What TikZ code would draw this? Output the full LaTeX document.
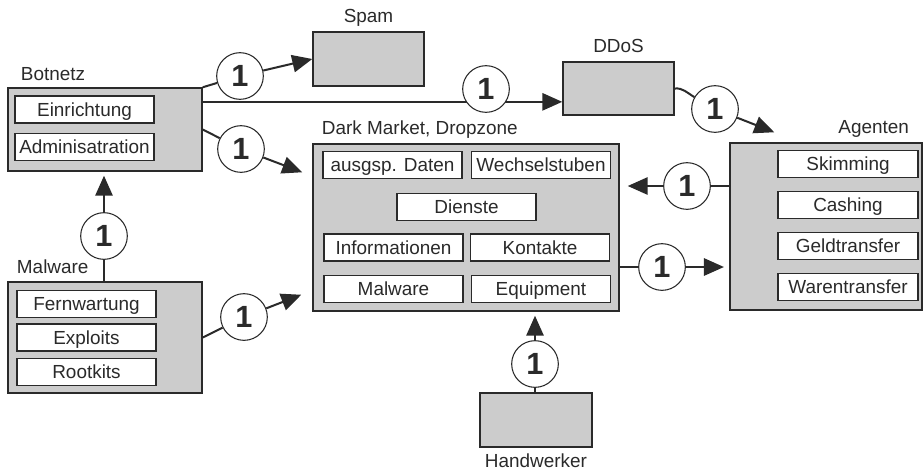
\documentclass[tikz,border=0pt]{standalone}
\usepackage{fontspec}
\setmainfont{Liberation Sans}
\usetikzlibrary{arrows.meta, positioning}
\definecolor{boxgray}{HTML}{CCCCCC}
\definecolor{ink}{HTML}{2A2A2A}
\pgfdeclarelayer{bg}
\pgfsetlayers{bg,main}

\begin{document}
\begin{tikzpicture}[>={Triangle[length=15pt,width=13pt]}, x=0.75pt, y=-0.75pt,
  font=\fontsize{14.2}{16}\selectfont, text=ink,
  group/.style={draw=ink, line width=1.1pt, fill=boxgray, inner sep=0pt},
  item/.style={draw=ink, line width=1.1pt, fill=white, minimum width=104.5pt,
    minimum height=20.5pt, inner sep=0pt, text height=10.2pt, text depth=0pt},
  one/.style={circle, draw=ink, line width=0.8pt, fill=white, minimum size=35pt,
    inner sep=0pt, font=\bfseries\fontsize{23}{23}\selectfont},
  link/.style={draw=ink, line width=1.5pt}]
  \useasboundingbox (0,0) rectangle (924,472);

  % Botnetz
  \node[group, minimum width=145.5pt, minimum height=62.25pt] (bot) at (105,129.5) {};
  \node[item] (einr) at (84.5,109.5) {Einrichtung};
  \node[item] (admin) at (84.5,147) {Adminisatration};
  \node[anchor=base west] (botlbl) at ([shift={(9,-7)}]bot.north west) {Botnetz};

  % Malware
  \node[group, minimum width=145.5pt, minimum height=83.25pt] (mal) at (105,337.5) {};
  \node[item] (fern) at (86.5,304) {Fernwartung};
  \node[item] (expl) at (86.5,337.5) {Exploits};
  \node[item] (root) at (86.5,372) {Rootkits};
  \node[anchor=base west] (mallbl) at ([shift={(5,-8)}]mal.north west) {Malware};

  % Spam, DDoS, Handwerker
  \node[group, minimum width=83.25pt, minimum height=40.5pt] (spam) at (368.5,59) {};
  \node[anchor=base] (spamlbl) at ([shift={(0,-9)}]spam.north) {Spam};
  \node[group, minimum width=83.25pt, minimum height=39.75pt] (ddos) at (618.5,88.5) {};
  \node[anchor=base] (ddoslbl) at ([shift={(0,-9)}]ddos.north) {DDoS};
  \node[group, minimum width=84pt, minimum height=40.5pt] (hw) at (536,420) {};
  \node[anchor=base] (hwlbl) at ([shift={(0,20)}]hw.south) {Handwerker};

  % Dark Market
  \node[group, minimum width=229.5pt, minimum height=125.25pt] (dm) at (466,227.5) {};
  \node[item] (daten) at (392.5,165) {ausgsp. Daten};
  \node[item] (wechsel) at (541,165) {Wechselstuben};
  \node[item] (dienste) at (466.5,207) {Dienste};
  \node[item] (info) at (393.5,247.5) {Informationen};
  \node[item] (kontakte) at (540,247.5) {Kontakte};
  \node[item] (dmmal) at (393.5,289) {Malware};
  \node[item] (equip) at (541,289) {Equipment};
  \node[anchor=base west] (dmlbl) at ([shift={(5,-9)}]dm.north west) {Dark Market, Dropzone};

  % Agenten
  \node[group, minimum width=144pt, minimum height=125.25pt] (ag) at (826,226.5) {};
  \node[item, minimum width=105pt] (skim) at (848,164) {Skimming};
  \node[item, minimum width=105pt] (cash) at (848,205) {Cashing};
  \node[item, minimum width=105pt] (geld) at (848,246) {Geldtransfer};
  \node[item, minimum width=105pt] (waren) at (848,287) {Warentransfer};
  \node[anchor=base east] (aglbl) at ([shift={(-9,-9)}]ag.north east) {Agenten};

  % circles
  \node[one] (cspam) at (240,76) {1};
  \node[one] (cddos) at (486,89) {1};
  \node[one] (cag) at (715,109) {1};
  \node[one] (cdm) at (241,149) {1};
  \node[one] (cback) at (687,186) {1};
  \node[one] (cfwd) at (662,267) {1};
  \node[one] (cmb) at (104,236) {1};
  \node[one] (cmdm) at (244,317) {1};
  \node[one] (chw) at (535,364) {1};
  \coordinate (ddosin) at ([yshift=-10pt]ddos.west);

  \begin{pgfonlayer}{bg}
    \draw[link] (bot.north east) -- (cspam);
    \draw[link, ->] (cspam) -- (spam.west);
    \draw[link, ->] (bot.east |- ddosin) -- (ddosin);
    \draw[link] (ddos.east) to[out=5, in=150] (cag);
    \draw[link, ->] (cag) -- ([shift={(45,-10)}]ag.north west);
    \draw[link] (bot.east) -- (cdm);
    \draw[link, ->] (cdm) -- ([shift={(-10,29)}]dm.north west);
    \draw[link] (ag.west |- cback) -- (cback);
    \draw[link, ->, shorten >=6pt] (cback) -- (cback -| dm.east);
    \draw[link] (dm.east |- cfwd) -- (cfwd);
    \draw[link, ->, shorten >=4pt] (cfwd) -- (cfwd -| ag.west);
    \draw[link] (cmb |- mal.north) -- (cmb);
    \draw[link, ->, shorten >=3pt] (cmb) -- (cmb |- bot.south);
    \draw[link] (mal.east) -- (cmdm);
    \draw[link, ->] (cmdm) -- ([shift={(-11,-17)}]dm.south west);
    \draw[link] (chw |- hw.north) -- (chw);
    \draw[link, ->, shorten >=3pt] (chw) -- (chw |- dm.south);
  \end{pgfonlayer}
\end{tikzpicture}
\end{document}
